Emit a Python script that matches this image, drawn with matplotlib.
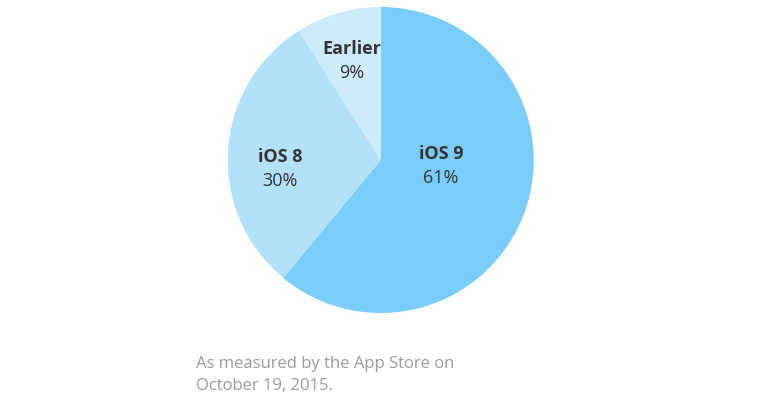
import matplotlib
matplotlib.use('Agg')
import matplotlib.pyplot as plt

labels = ['iOS 9', 'iOS 8', 'Earlier']
shares = [61, 30, 9]
colors = ['#79cdf8', '#b4e1fa', '#cdebfb']
footnote = 'As measured by the App Store on\nOctober 19, 2015.'

plt.rcParams['font.family'] = ['Open Sans', 'DejaVu Sans']

fig = plt.figure(figsize=(7.6, 4), dpi=100)
ax = fig.add_axes([0.501 - 0.2013, 0.6 - 0.3825, 0.4026, 0.765])
ax.pie(shares, colors=colors, startangle=90, counterclock=False,
       wedgeprops={'linewidth': 0})
ax.set_aspect('equal')
ax.set_xlim(-1, 1)
ax.set_ylim(-1, 1)

# label positions in pixels (x, y of the label centre)
label_pos = [(441, 165), (280, 168), (352, 60)]
for name, val, (px, py) in zip(labels, shares, label_pos):
    fx, fy = px / 760, 1 - py / 400
    fig.text(fx, fy + 0.028, name, ha='center', va='center', fontsize=13,
             fontweight='bold', color='#333333')
    fig.text(fx, fy - 0.032, '%d%%' % val, ha='center', va='center',
             fontsize=13, color='#333333')

fig.text(196 / 760, 1 - 375 / 400, footnote, ha='left', va='center',
         fontsize=12, color='#9a9a9a', linespacing=1.45)

fig.savefig('out.png', dpi=100)
